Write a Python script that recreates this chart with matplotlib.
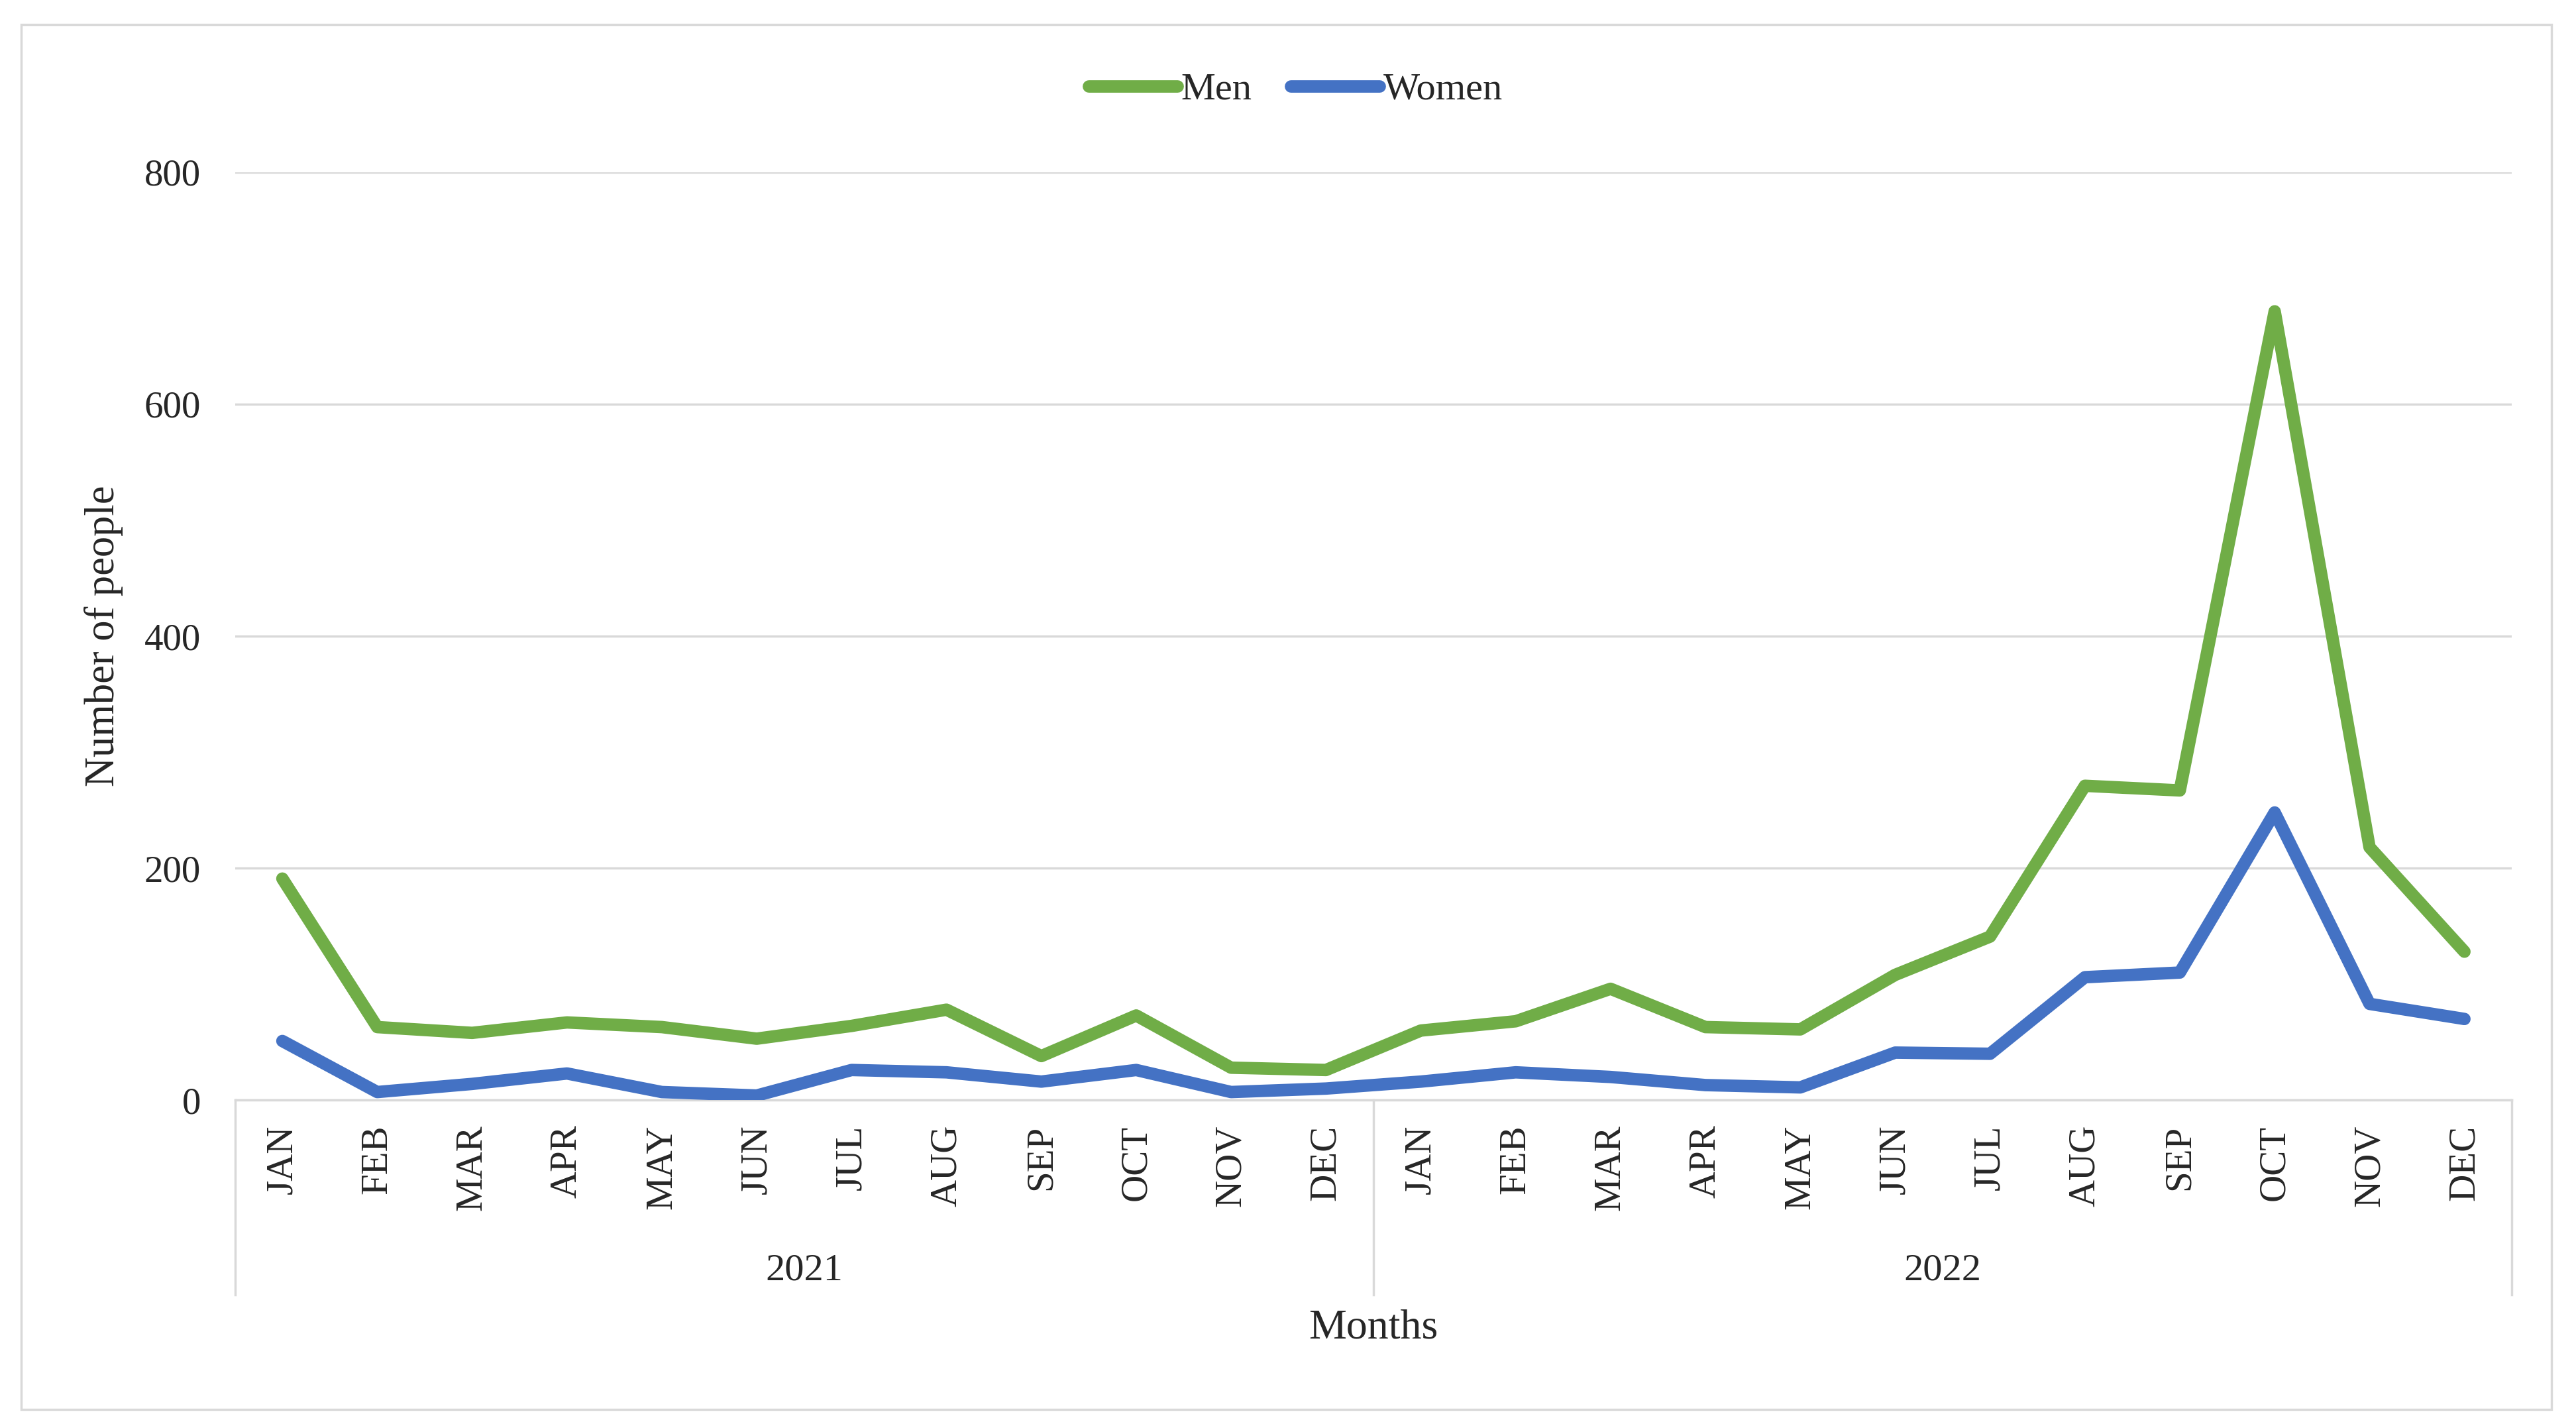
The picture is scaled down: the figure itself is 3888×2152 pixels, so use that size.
import numpy as np
import matplotlib.pyplot as plt
from matplotlib.patches import Rectangle

plt.rcParams['font.family'] = ['Liberation Serif', 'DejaVu Serif']

months = ["JAN", "FEB", "MAR", "APR", "MAY", "JUN",
          "JUL", "AUG", "SEP", "OCT", "NOV", "DEC"]
years = ["2021", "2022"]
men = [191, 63, 58, 67, 63, 53, 64, 78, 38, 73, 28, 26,
       60, 68, 96, 63, 61, 108, 141, 271, 267, 680, 218, 128]
women = [51, 7, 14, 23, 7, 4, 26, 24, 16, 26, 7, 10,
         16, 24, 20, 13, 11, 41, 40, 106, 110, 248, 83, 70]

txt = '#262626'
grid_c = '#d9d9d9'

fig = plt.figure(figsize=(38.88, 21.52), dpi=100)
fig.patches.append(Rectangle((0.0083, 0.0116), 0.9821, 0.971, transform=fig.transFigure,
                             fill=False, edgecolor=grid_c, linewidth=2.5))
ax = fig.add_axes([0.0912, 0.2285, 0.8839, 0.6508])

x = np.arange(len(men))
ax.plot(x, men, color='#70AD47', lw=13.5, solid_capstyle='round', solid_joinstyle='round', label='Men', zorder=3)
ax.plot(x, women, color='#4472C4', lw=13.5, solid_capstyle='round', solid_joinstyle='round', label='Women', zorder=3)

ax.set_xlim(-0.5, len(men) - 0.5)
ax.set_ylim(0, 800)
ax.set_yticks([0, 200, 400, 600, 800])
ax.yaxis.grid(True, color=grid_c, lw=2.5)
ax.set_axisbelow(True)
for s in ['top', 'right', 'left']:
    ax.spines[s].set_visible(False)
ax.spines['bottom'].set_color(grid_c)
ax.spines['bottom'].set_linewidth(2.5)

ax.set_xticks(x)
ax.set_xticklabels(months * len(years), rotation=90, va='top')
ax.tick_params(axis='x', length=0, pad=27, labelsize=41, labelcolor=txt)
ax.tick_params(axis='y', length=0, pad=37, labelsize=41, labelcolor=txt)

# year group separators and labels
for b in [-0.5, 11.5, 23.5]:
    ax.axvline(b, ymin=-0.21, ymax=0, color=grid_c, lw=2.5, clip_on=False)
for i, yr in enumerate(years):
    ax.text(i * 12 + 5.5, -0.1836, yr, transform=ax.get_xaxis_transform(),
            ha='center', va='center', fontsize=42, color=txt)

ax.text(11.5, -0.246, 'Months', transform=ax.get_xaxis_transform(),
        ha='center', va='center', fontsize=46, color=txt)
ax.text(-0.0577, 0.5, 'Number of people', transform=ax.transAxes, rotation=90,
        ha='center', va='center', fontsize=45, color=txt)

leg = fig.legend(loc='center', bbox_to_anchor=(0.503, 0.937), ncol=2, frameon=False,
                 fontsize=42, handlelength=2.3, handletextpad=0.1, columnspacing=1.0)
for t in leg.get_texts():
    t.set_color(txt)

fig.savefig('out.png', dpi=100)
